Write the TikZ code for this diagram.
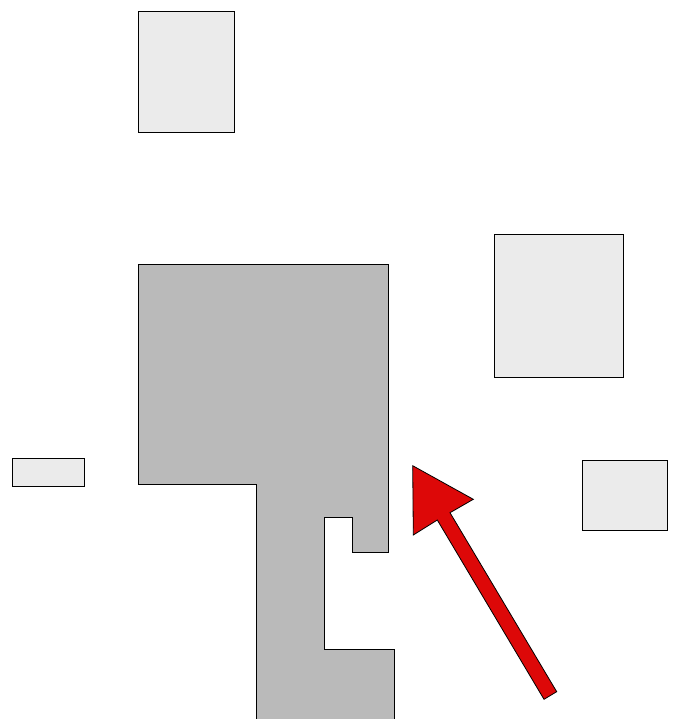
\documentclass[tikz,border=0pt]{standalone}
\begin{document}
\begin{tikzpicture}[x=1pt,y=-1pt,
  lightbox/.style={draw=black,fill=boxgray,line width=0.8pt},
  bigshape/.style={draw=black,fill=shapegray,line width=0.8pt},
  redarrow/.style={draw=black,fill=arrowred,line width=0.8pt,line join=miter}]
\definecolor{boxgray}{HTML}{EBEBEB}
\definecolor{shapegray}{HTML}{BABABA}
\definecolor{arrowred}{HTML}{DD0808}
\useasboundingbox (0,0) rectangle (675,719);
\draw[lightbox] (138,11) rectangle (234,132);
\draw[lightbox] (494,234) rectangle (623,377);
\draw[lightbox] (582,460) rectangle (667,530);
\draw[lightbox] (12,458) rectangle (84,486);
\draw[bigshape] (138,264) -- (388,264) -- (388,552) -- (352,552) -- (352,517) -- (324,517) -- (324,649) -- (394,649) -- (394,719.5) -- (256,719.5) -- (256,484) -- (138,484) -- cycle;
\draw[redarrow] (412.7,465.7) -- (473.3,499.3) -- (450,512.7) -- (556.7,691.7) -- (544,699.3) -- (437.3,520) -- (413.3,535) -- cycle;
\end{tikzpicture}
\end{document}
